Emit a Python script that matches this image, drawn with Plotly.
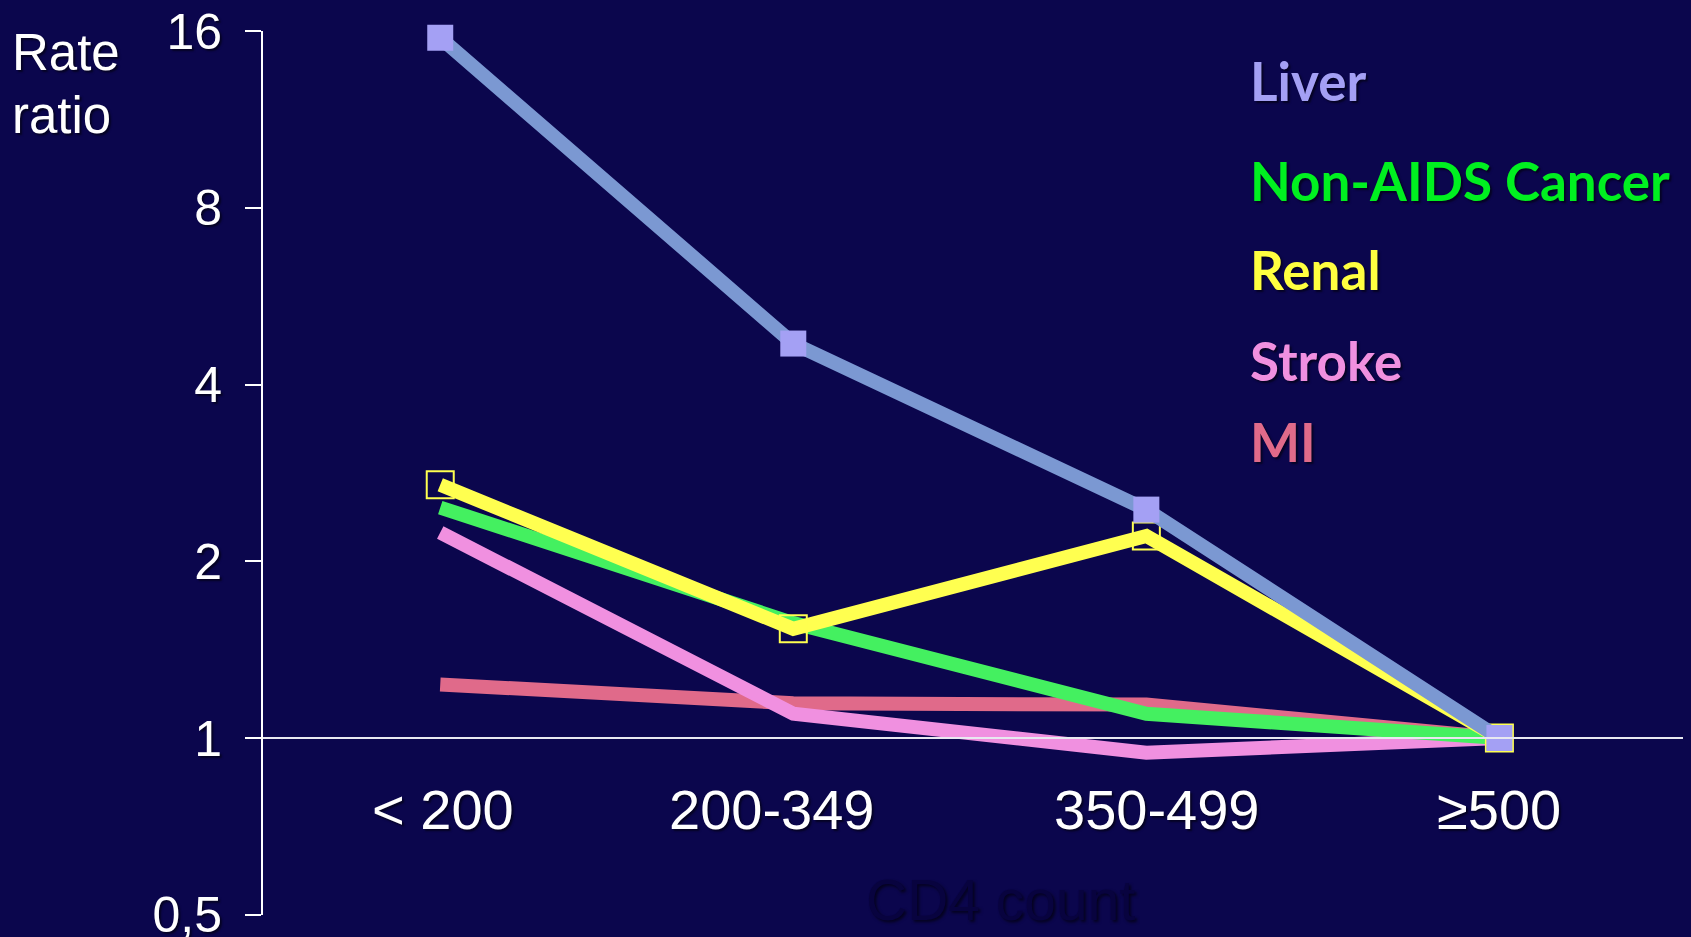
import math
import plotly.graph_objects as go

# CD4 count strata and rate ratios per cause of death
categories = ["< 200", "200-349", "350-499", "≥500"]
liver = [15.6, 4.7, 2.45, 1.0]
non_aids_cancer = [2.47, 1.57, 1.10, 1.0]
renal = [2.70, 1.535, 2.21, 1.0]
stroke = [2.24, 1.10, 0.944, 1.0]
mi = [1.234, 1.146, 1.14, 1.0]

y_ticks = [0.5, 1, 2, 4, 8, 16]
y_tick_text = ["0,5", "1", "2", "4", "8", "16"]

W, H = 1691, 937
L, R, T, B = 263, 8, 31, 22
PW, PH = W - L - R, H - T - B

BG = "#0b064d"
SANS = "Liberation Sans, Arial, sans-serif"
BOLD = "Lato, Noto Sans, sans-serif"
SHADOW = "2px 2px 2px rgba(0,0,0,0.55)"


def px(xp):
    return (xp - L) / PW


def py(yp):
    return (H - B - yp) / PH


x_idx = list(range(len(categories)))

fig = go.Figure()

series = [
    ("MI", mi, "#e06a8a", None),
    ("Stroke", stroke, "#f090e0", None),
    ("Non-AIDS Cancer", non_aids_cancer, "#44f060", None),
    ("Renal", renal, "#ffff50", dict(symbol="square-open", size=27,
                                      color="#ffff50", line=dict(width=2, color="#ffff50"))),
    ("Liver", liver, "#7b98d2", dict(symbol="square", size=26, color="#a4a0f4",
                                      line=dict(width=0))),
]

for name, vals, col, marker in series:
    fig.add_trace(go.Scatter(
        x=x_idx, y=vals, name=name,
        mode="lines+markers" if marker else "lines",
        line=dict(color=col, width=14),
        marker=marker,
        hoverinfo="skip",
        showlegend=False,
        cliponaxis=False,
    ))

# Series labels
legend_items = [
    ("Liver", "#a4a0f4", 82),
    ("Non-AIDS Cancer", "#00f020", 182),
    ("Renal", "#ffff40", 271),
    ("Stroke", "#f090e0", 362),
    ("MI", "#e06a8a", 443),
]
annotations = []
for text, col, yc in legend_items:
    annotations.append(dict(
        text=f"<b>{text}</b>", x=px(1248), y=py(yc - 1.5), xref="paper", yref="paper",
        xanchor="left", yanchor="middle", showarrow=False,
        font=dict(family=BOLD, size=53, color=col, shadow=SHADOW),
    ))

# Category labels under the reference line
label_shift = [3, -21, 11, 0]
for i, (cat, dx) in enumerate(zip(categories, label_shift)):
    annotations.append(dict(
        text=cat, x=i, y=py(809), xref="x", yref="paper", xshift=dx,
        xanchor="center", yanchor="middle", showarrow=False,
        font=dict(family=SANS, size=56, color="white", shadow=SHADOW),
    ))

# Axis titles
annotations += [
    dict(text="Rate", x=px(10), y=py(52), xref="paper", yref="paper",
         xanchor="left", yanchor="middle", showarrow=False,
         font=dict(family=SANS, size=51, color="white", shadow=SHADOW)),
    dict(text="ratio", x=px(10), y=py(115), xref="paper", yref="paper",
         xanchor="left", yanchor="middle", showarrow=False,
         font=dict(family=SANS, size=51, color="white", shadow=SHADOW)),
    dict(text="CD4 count", x=px(1000), y=py(900), xref="paper", yref="paper",
         xanchor="center", yanchor="middle", showarrow=False,
         font=dict(family=SANS, size=57, color="#08033f",
                   shadow="2px 2px 3px rgba(0,0,0,0.6)")),
]

lo, hi = math.log10(0.5), math.log10(16)
eps = 0.0005

fig.update_layout(
    width=W, height=H,
    margin=dict(l=L, r=R, t=T, b=B, pad=0, autoexpand=False),
    paper_bgcolor=BG, plot_bgcolor=BG,
    annotations=annotations,
    showlegend=False,
    xaxis=dict(
        range=[-0.502, 3.52], showgrid=False, zeroline=False,
        showticklabels=False, ticks="", automargin=False,
        showline=True, linecolor="#e8e8f0", linewidth=2,
        anchor="free", position=(0 - lo) / (hi - lo),
    ),
    yaxis=dict(
        type="log", range=[lo - eps, hi + eps], automargin=False,
        tickvals=y_ticks, ticktext=y_tick_text,
        ticks="outside", ticklen=16, tickwidth=2, tickcolor="white",
        showline=True, linecolor="white", linewidth=2,
        showgrid=False, zeroline=False,
        tickfont=dict(family=SANS, size=50, color="white", shadow=SHADOW),
        ticklabelstandoff=13,
        ticklabeloverflow="allow",
    ),
)

fig.write_html("out.html")
